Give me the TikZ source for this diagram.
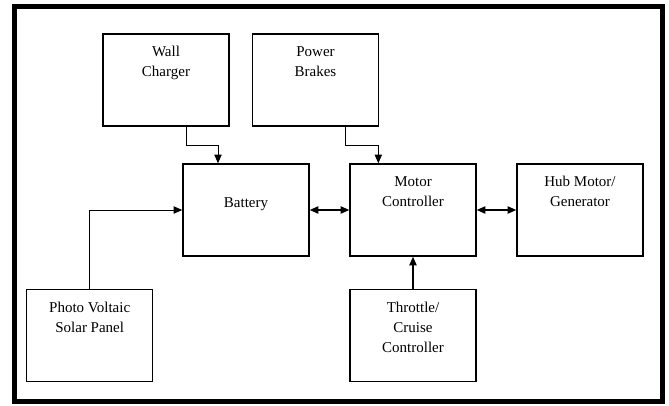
\documentclass[tikz,border=0pt]{standalone}
\usepackage{fontspec}
\setmainfont{Liberation Serif}
\usetikzlibrary{arrows.meta}

\tikzset{
  blk/.style={draw, line width=1.1pt, minimum width=94.5pt, minimum height=69pt, inner sep=0pt},
  txt/.style={anchor=north, yshift=-9.75pt, align=center, inner sep=0pt, font=\fontsize{11.25}{15}\selectfont},
  arr/.style={line width=0.7pt, -{Triangle[length=6.5pt,width=5.5pt]}},
  dbl/.style={line width=1.1pt, {Triangle[length=6.5pt,width=5.5pt]}-{Triangle[length=6.5pt,width=5.5pt]}}
}

\begin{document}
\begin{tikzpicture}[x=0.75pt,y=0.75pt,yscale=-1,xscale=1]
\useasboundingbox (0,0) rectangle (669,405);

\draw[line width=3.4pt] (14.3,6.7) rectangle (662.5,401.5);

\node[blk, label={[txt]north:Wall\\Charger}] (wall) at (166,80) {};
\node[blk, label={[txt]north:Power\\Brakes}] (brk) at (315.5,80) {};
\node[blk, label={[txt, yshift=-15.5pt]north:Battery}] (bat) at (246,210) {};
\node[blk, label={[txt]north:Motor\\Controller}] (mc) at (413,210) {};
\node[blk, label={[txt]north:Hub Motor/\\Generator}] (hub) at (580,210) {};
\node[blk, label={[txt]north:Photo Voltaic\\Solar Panel}] (pv) at (89.7,335.5) {};
\node[blk, label={[txt]north:Throttle/\\Cruise\\Controller}] (thr) at (413,335.5) {};

\draw[arr] ([xshift=15pt]wall.south) -- ++(0,19) -| ([xshift=-21pt]bat.north);
\draw[arr] ([xshift=22.5pt]brk.south) -- ++(0,19) -| ([xshift=-26pt]mc.north);
\draw[arr] (pv.north) |- (bat.west);
\draw[dbl] (bat.east) -- (mc.west);
\draw[dbl] (mc.east) -- (hub.west);
\draw[arr, line width=1.1pt] (thr.north) -- (mc.south);
\end{tikzpicture}
\end{document}
